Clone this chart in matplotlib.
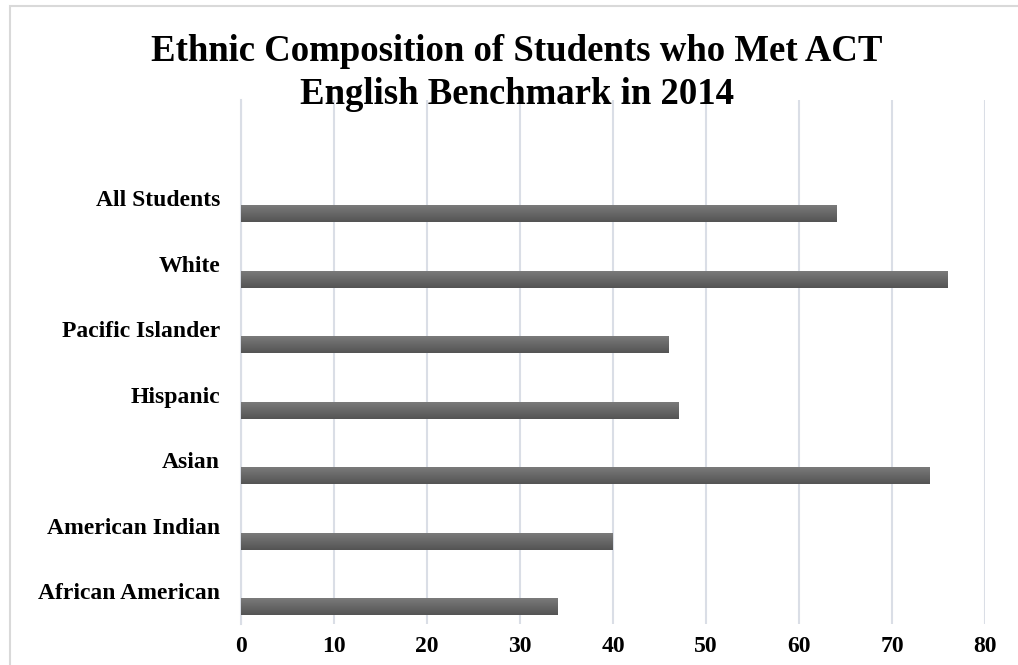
import numpy as np
import matplotlib
matplotlib.use('Agg')
import matplotlib.pyplot as plt
from matplotlib.patches import Rectangle
from matplotlib.colors import LinearSegmentedColormap

# dados do grafico (de baixo para cima)
categorias = ['African American', 'American Indian', 'Asian', 'Hispanic',
              'Pacific Islander', 'White', 'All Students']
valores = [34, 40, 74, 47, 46, 76, 64]
xticks = [0, 10, 20, 30, 40, 50, 60, 70, 80]

titulo = 'Ethnic Composition of Students who Met ACT\nEnglish Benchmark in 2014'

plt.rcParams['font.family'] = ['Liberation Serif', 'DejaVu Serif']
grid_cor = '#DADEE6'

fig = plt.figure(figsize=(10.18, 6.65), dpi=100)
ax = fig.add_axes([241 / 1018, 1 - 624 / 665, (985 - 241) / 1018, (624 - 100) / 665])

# borda do grafico
fig.patches.append(Rectangle((10 / 1018, -0.05), 1.1, 1 - 6 / 665 + 0.05,
                             transform=fig.transFigure, fill=False,
                             edgecolor='#D9D9D9', linewidth=1.5))

y = np.arange(len(categorias))
desloc = 0.245
altura = 0.245

# gradiente cinza (claro em cima, escuro embaixo)
cmap = LinearSegmentedColormap.from_list('g', ['#7a7a7a', '#545454'])
grad = np.linspace(0, 1, 50).reshape(-1, 1)

barras = ax.barh(y - desloc, valores, height=altura, color='#646464', zorder=2)
for b in barras:
    x0, y0 = b.get_x(), b.get_y()
    w, h = b.get_width(), b.get_height()
    ax.imshow(grad, cmap=cmap, aspect='auto', extent=(x0, x0 + w, y0, y0 + h),
              origin='upper', zorder=3)

ax.set_xlim(0, 80)
ax.set_ylim(-0.5, len(categorias) + 0.5)
ax.set_xticks(xticks)
ax.set_yticks(y)
ax.set_yticklabels(categorias, fontsize=17, fontweight='bold')
ax.set_xticklabels([str(t) for t in xticks], fontsize=17, fontweight='bold')
ax.tick_params(axis='y', length=0, pad=15)
ax.tick_params(axis='x', length=0, pad=9)

ax.grid(axis='x', color=grid_cor, linewidth=1.5, zorder=0)
ax.set_axisbelow(True)
for s in ['top', 'right', 'bottom']:
    ax.spines[s].set_visible(False)
ax.spines['left'].set_color(grid_cor)
ax.spines['left'].set_linewidth(1.5)

fig.text(517 / 1018, 1 - 73 / 665, titulo, ha='center', va='center',
         fontsize=26.5, fontweight='bold', linespacing=1.32)

fig.savefig('out.png', dpi=100)
